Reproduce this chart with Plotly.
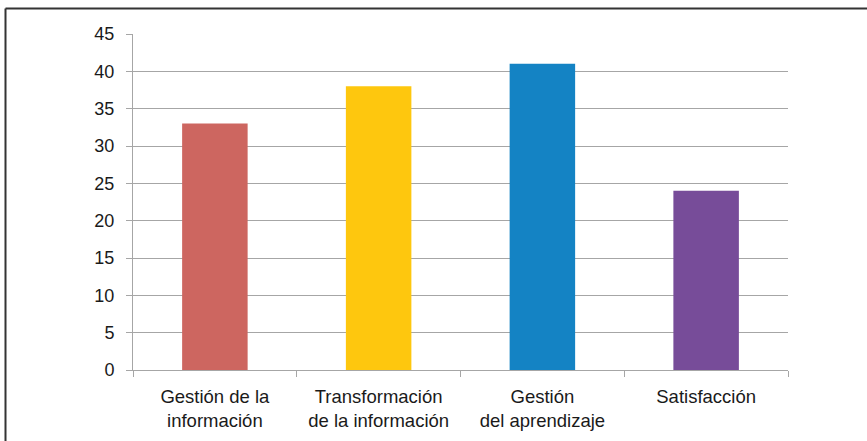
import plotly.graph_objects as go

categories = ["Gestión de la<br>información", "Transformación<br>de la información", "Gestión<br>del aprendizaje", "Satisfacción"]
values = [33, 38, 41, 24]
colors = ["#CD6660", "#FEC70E", "#1483C4", "#774C99"]
y_ticks = [0, 5, 10, 15, 20, 25, 30, 35, 40, 45]

W, H = 867, 441
L, R, T, B = 133, 79, 34, 71
pw, ph = W - L - R, H - T - B

fig = go.Figure(go.Bar(x=categories, y=values, marker=dict(color=colors, line=dict(width=0)), width=0.4))

grid = "#A6A6A6"
fig.update_layout(
    width=W, height=H,
    margin=dict(l=L, r=R, t=T, b=B, pad=0),
    paper_bgcolor="white", plot_bgcolor="white",
    font=dict(family="Liberation Sans, Arial, sans-serif", size=18, color="#1a1a1a"),
    showlegend=False,
    xaxis=dict(showgrid=False, showline=True, linecolor=grid, linewidth=1,
               ticks="outside", ticklen=6, tickcolor=grid, tickson="boundaries",
               tickfont=dict(size=18.5), ticklabelstandoff=10, automargin=False),
    yaxis=dict(range=[0, 45], tickvals=y_ticks, showgrid=True, gridcolor=grid, gridwidth=1,
               showline=True, linecolor=grid, linewidth=1, zeroline=False,
               ticks="outside", ticklen=6, tickcolor=grid, tickfont=dict(size=18),
               ticklabelstandoff=8, automargin=False),
    bargap=0.6,
)

# outer frame lines (top and left)
def px_x(p):
    return (p - L) / pw
def px_y(p):
    return 1 - (p - T) / ph

fig.add_shape(type="line", xref="paper", yref="paper", x0=px_x(5.5), x1=px_x(W + 5), y0=px_y(8.5), y1=px_y(8.5),
              line=dict(color="#333333", width=2))
fig.add_shape(type="line", xref="paper", yref="paper", x0=px_x(5.5), x1=px_x(5.5), y0=px_y(8.5), y1=px_y(H + 5),
              line=dict(color="#333333", width=2))

fig.write_html("out.html", config={"displayModeBar": False},
               post_script="document.body.style.margin='0';")
